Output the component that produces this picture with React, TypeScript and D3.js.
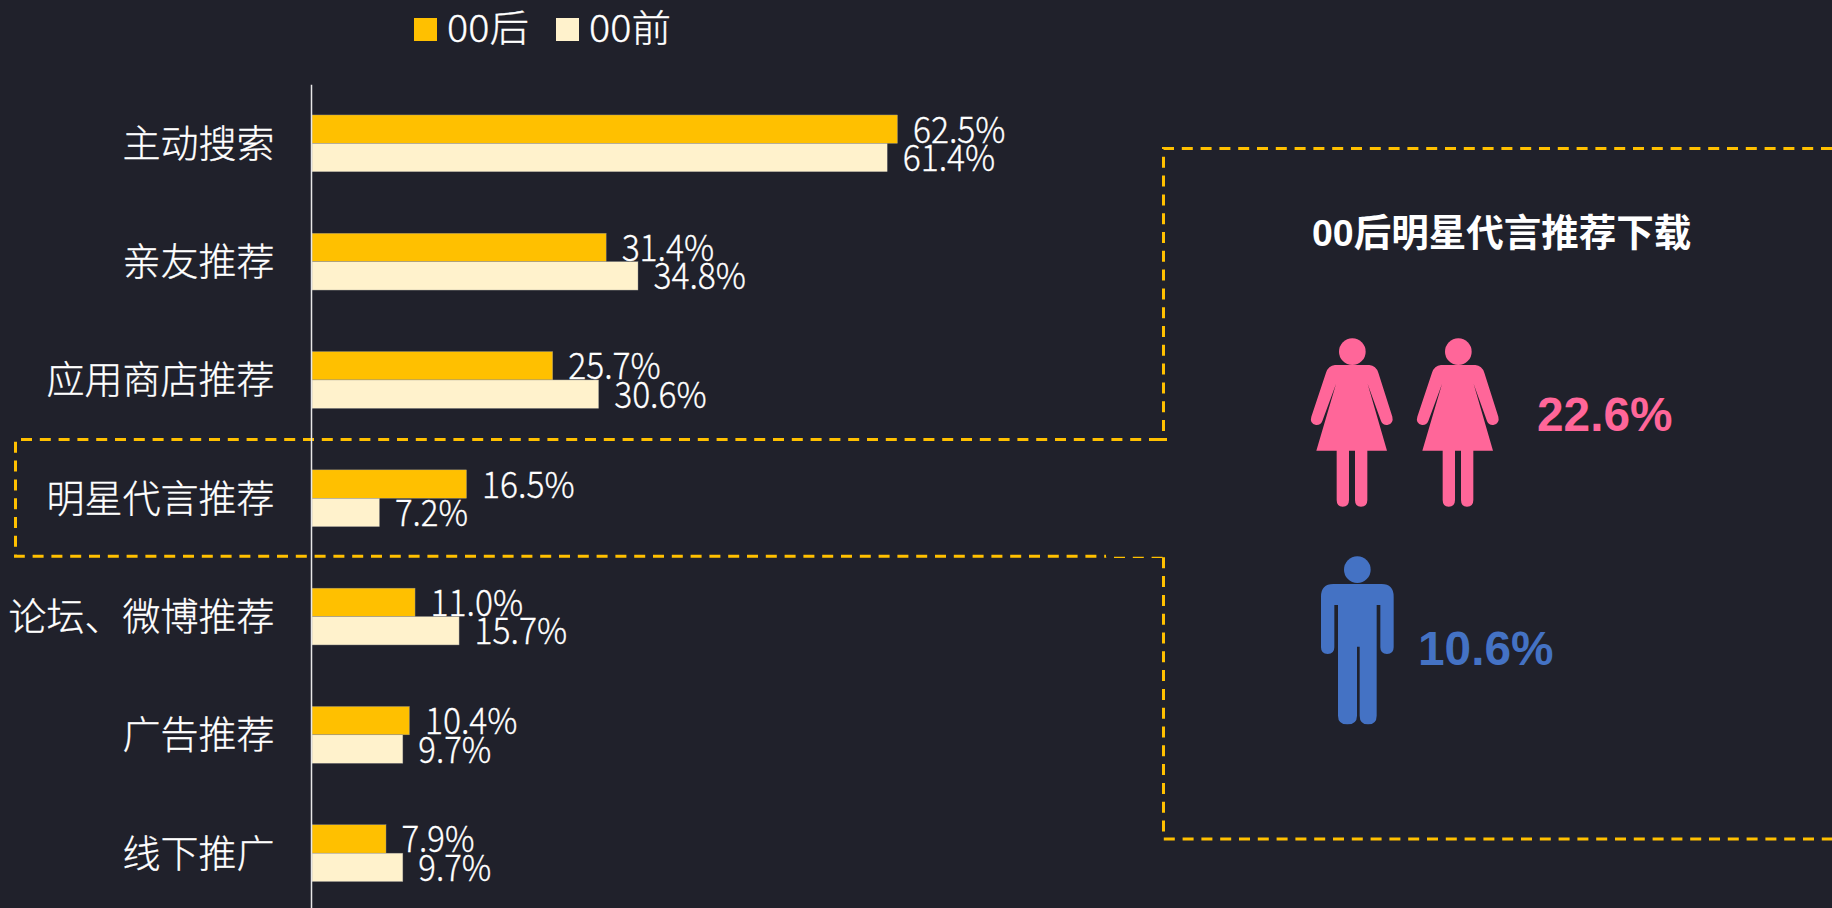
import React from "react";
import * as d3 from "d3";

const categories = ["主动搜索", "亲友推荐", "应用商店推荐", "明星代言推荐", "论坛、微博推荐", "广告推荐", "线下推广"];
const seriesNames = ["00后", "00前"];
const after00 = [62.5, 31.4, 25.7, 16.5, 11.0, 10.4, 7.9];
const before00 = [61.4, 34.8, 30.6, 7.2, 15.7, 9.7, 9.7];
const seriesColors = ["#FFC000", "#FFF2CC"];
const panelTitle = "00后明星代言推荐下载";
const femaleShare = "22.6%";
const maleShare = "10.6%";

const W = 1832, H = 908;
const BG = "#20212B";
const CJK = "'Noto Sans CJK SC', sans-serif";
const LAT = "'Liberation Sans', Arial, sans-serif";

const FEMALE = "M165 135 H268 Q288 137 295 158 L337 290 Q342 310 322 315 Q308 316 303 303 L263 192 L321 392 H262 V540 Q262 560 243 560 Q225 560 225 540 V392 H207 V540 Q207 560 188 560 Q170 560 170 540 V392 H109 L168 192 L127 303 Q122 316 108 315 Q88 310 94 290 L138 158 Q145 137 165 135 Z";
const MALE = "M160 792 H305 Q341 792 341 830 V982 Q341 1002 321 1002 Q301 1002 301 982 V855 H290 V1187 Q290 1213 264 1213 Q239 1213 239 1187 V980 H231 V1187 Q231 1213 202 1213 Q174 1213 174 1187 V855 H163 V982 Q163 1002 143 1002 Q123 1002 123 982 V830 Q123 792 160 792 Z";

export default function App() {
  const x = d3.scaleLinear().domain([0, 62.5]).range([312, 897.5]);
  const y = d3.scaleBand<string>().domain(categories).range([84.2, 84.2 + 7 * 118.3]).paddingInner(0).paddingOuter(0);
  const barH = 28.4;
  const dash = { stroke: "#FFC000", strokeWidth: 3, strokeDasharray: "11 7.8", fill: "none" };
  const series = [after00, before00];
  const thin = { stroke: "#fff", strokeWidth: 0.3 };

  return (
    <svg width={W} height={H} style={{ position: "absolute", left: 0, top: 0, display: "block" }}>
      <rect width={W} height={H} fill={BG} />

      {/* legend */}
      {seriesNames.map((n, i) => (
        <g key={n}>
          <rect x={414 + i * 142} y={18} width={23} height={23} fill={seriesColors[i]} />
          <text x={447 + i * 142} y={42} fontFamily={CJK} fontWeight={300} fontSize={37} fill="#fff" {...thin} textLength={82} lengthAdjust="spacingAndGlyphs">{n}</text>
        </g>
      ))}

      {/* bars */}
      {categories.map((c, ci) => {
        const cy = y(c)! + y.bandwidth() / 2;
        return (
          <g key={c}>
            <text x={274.5} y={cy + 13.5} textAnchor="end" fontFamily={CJK} fontWeight={300} fontSize={38} fill="#fff" {...thin}>{c}</text>
            {series.map((vals, si) => {
              const top = cy + (si - 1) * barH;
              return (
                <g key={si}>
                  <rect x={x(0)} y={top} width={x(vals[ci]) - x(0)} height={barH} fill={seriesColors[si]} stroke="#8f8f8f" strokeWidth={0.4} />
                  <text x={x(vals[ci]) + 15.5} y={top + barH / 2 + 13.5} fontFamily={CJK} fontWeight={300} fontSize={36} fill="#fff" {...thin} textLength={vals[ci] < 10 ? 73 : 92.5} lengthAdjust="spacingAndGlyphs">
                    {vals[ci].toFixed(1)}%
                  </text>
                </g>
              );
            })}
          </g>
        );
      })}

      {/* dashed callout */}
      <path {...dash} d="M1832 148.5 H1163.5 V439.5" />
      <path {...dash} strokeDasharray="none" d="M1157 439.5 H1167" />
      <path {...dash} d="M1160 439.5 H15.5 V556.3 H1106" />
      <path {...dash} strokeWidth={1.3} strokeDashoffset={-8} d="M1106 557.3 H1163.5" />
      <path {...dash} d="M1163.5 557.3 V839 H1832" />

      {/* axis */}
      <line x1={311.5} x2={311.5} y1={84.7} y2={H} stroke="#E8E8E8" strokeWidth={1.5} />

      {/* panel */}
      <text x={1312} y={246} fontFamily={LAT + ", 'Noto Sans CJK SC'"} fontWeight={700} fontSize={37.5} fill="#fff">{panelTitle}</text>

      <g transform="translate(1280,320) scale(0.33333)" fill="#FF6699">
        {[0, 318].map((dx) => (
          <g key={dx} transform={`translate(${dx},0)`}>
            <circle cx={217} cy={95} r={40} />
            <path d={FEMALE} />
          </g>
        ))}
        <g fill="#4472C4">
          <circle cx={232} cy={749} r={40} />
          <path d={MALE} />
        </g>
      </g>
      <text x={1537} y={431} fontFamily={LAT} fontWeight={700} fontSize={47.8} fill="#FF6699">{femaleShare}</text>
      <text x={1418} y={665} fontFamily={LAT} fontWeight={700} fontSize={47.8} fill="#4472C4">{maleShare}</text>
    </svg>
  );
}
